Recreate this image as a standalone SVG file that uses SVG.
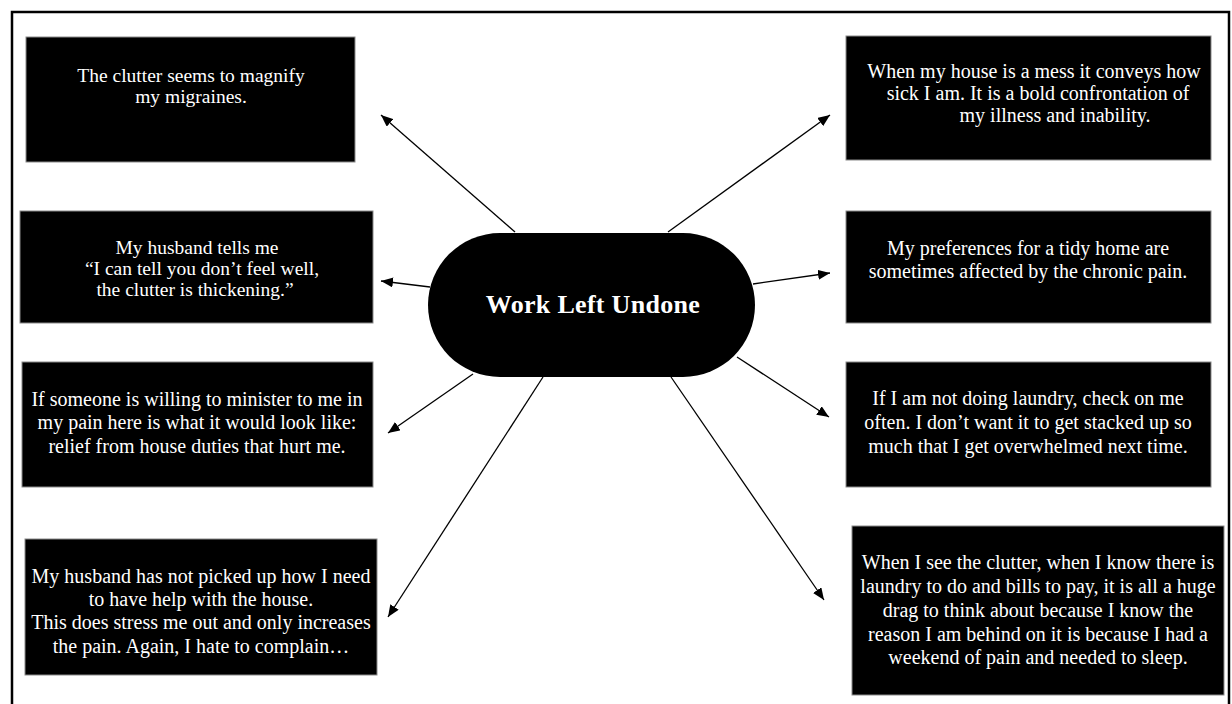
<svg xmlns="http://www.w3.org/2000/svg" width="1232" height="704" viewBox="0 0 1232 704">
  <defs>
    <marker id="arrow" markerUnits="userSpaceOnUse" markerWidth="12" markerHeight="10" refX="12" refY="5" orient="auto">
      <path d="M0,0 L12,5 L0,10 z" fill="#000"/>
    </marker>
    <style>
      .box { fill: #000; stroke: #8a8a8a; stroke-width: 1; }
      .txt { fill: #fff; font-family: "Liberation Serif", "Times New Roman", serif; font-size: 20px; text-anchor: middle; }
      .sm { font-size: 19.5px; }
      .hub { fill: #fff; font-family: "Liberation Serif", "Times New Roman", serif; font-size: 26px; font-weight: bold; text-anchor: middle; letter-spacing: 0.3px; }
      .link { stroke: #000; stroke-width: 1.3; fill: none; marker-end: url(#arrow); }
    </style>
  </defs>

  <rect x="0" y="0" width="1232" height="704" fill="#fff"/>
  <!-- frame (open at the bottom edge) -->
  <rect x="12" y="12" width="1217" height="720" fill="none" stroke="#000" stroke-width="2.5"/>

  <g id="connectors">
    <line class="link" x1="515" y1="232" x2="381" y2="115"/>
    <line class="link" x1="668" y1="232" x2="830" y2="115"/>
    <line class="link" x1="430" y1="287" x2="381" y2="281"/>
    <line class="link" x1="753" y1="284" x2="830" y2="273"/>
    <line class="link" x1="473" y1="374" x2="388" y2="433"/>
    <line class="link" x1="737" y1="357" x2="829" y2="417"/>
    <line class="link" x1="543" y1="377" x2="388" y2="617"/>
    <line class="link" x1="671" y1="377" x2="824" y2="600"/>
  </g>

  <g id="hub">
    <rect x="428" y="233" width="327" height="144" rx="72" ry="72" fill="#000"/>
    <text class="hub" x="593" y="313">Work Left Undone</text>
  </g>

  <g id="migraines">
    <rect class="box" x="26" y="37" width="329" height="125"/>
    <text class="txt sm" x="191" y="82">The clutter seems to magnify</text>
    <text class="txt sm" x="191" y="103">my migraines.</text>
  </g>

  <g id="house-mess">
    <rect class="box" x="846" y="36" width="365" height="124"/>
    <text class="txt" x="1034" y="78">When my house is a mess it conveys how</text>
    <text class="txt" x="1038" y="100">sick I am. It is a bold confrontation of</text>
    <text class="txt" x="1055" y="122">my illness and inability.</text>
  </g>

  <g id="husband-tells">
    <rect class="box" x="20" y="211" width="353" height="112"/>
    <text class="txt sm" x="197" y="254">My husband tells me</text>
    <text class="txt sm" x="202" y="275">“I can tell you don’t feel well,</text>
    <text class="txt sm" x="195" y="296">the clutter is thickening.”</text>
  </g>

  <g id="tidy-home">
    <rect class="box" x="846" y="211" width="365" height="112"/>
    <text class="txt" x="1028" y="255">My preferences for a tidy home are</text>
    <text class="txt" x="1028" y="278">sometimes affected by the chronic pain.</text>
  </g>

  <g id="minister">
    <rect class="box" x="22" y="362" width="351" height="125"/>
    <text class="txt" x="197" y="406">If someone is willing to minister to me in</text>
    <text class="txt" x="197" y="429">my pain here is what it would look like:</text>
    <text class="txt" x="197" y="453">relief from house duties that hurt me.</text>
  </g>

  <g id="laundry-check">
    <rect class="box" x="846" y="362" width="365" height="125"/>
    <text class="txt" x="1028" y="405">If I am not doing laundry, check on me</text>
    <text class="txt" x="1028" y="429">often. I don’t want it to get stacked up so</text>
    <text class="txt" x="1028" y="453">much that I get overwhelmed next time.</text>
  </g>

  <g id="husband-help">
    <rect class="box" x="25" y="539" width="352" height="136"/>
    <text class="txt" x="201" y="583">My husband has not picked up how I need</text>
    <text class="txt" x="201" y="606">to have help with the house.</text>
    <text class="txt" x="201" y="629">This does stress me out and only increases</text>
    <text class="txt" x="201" y="653">the pain. Again, I hate to complain…</text>
  </g>

  <g id="clutter-drag">
    <rect class="box" x="852" y="526" width="372" height="169"/>
    <text class="txt" x="1038" y="569">When I see the clutter, when I know there is</text>
    <text class="txt" x="1038" y="593">laundry to do and bills to pay, it is all a huge</text>
    <text class="txt" x="1038" y="617">drag to think about because I know the</text>
    <text class="txt" x="1038" y="641">reason I am behind on it is because I had a</text>
    <text class="txt" x="1038" y="664">weekend of pain and needed to sleep.</text>
  </g>
</svg>
